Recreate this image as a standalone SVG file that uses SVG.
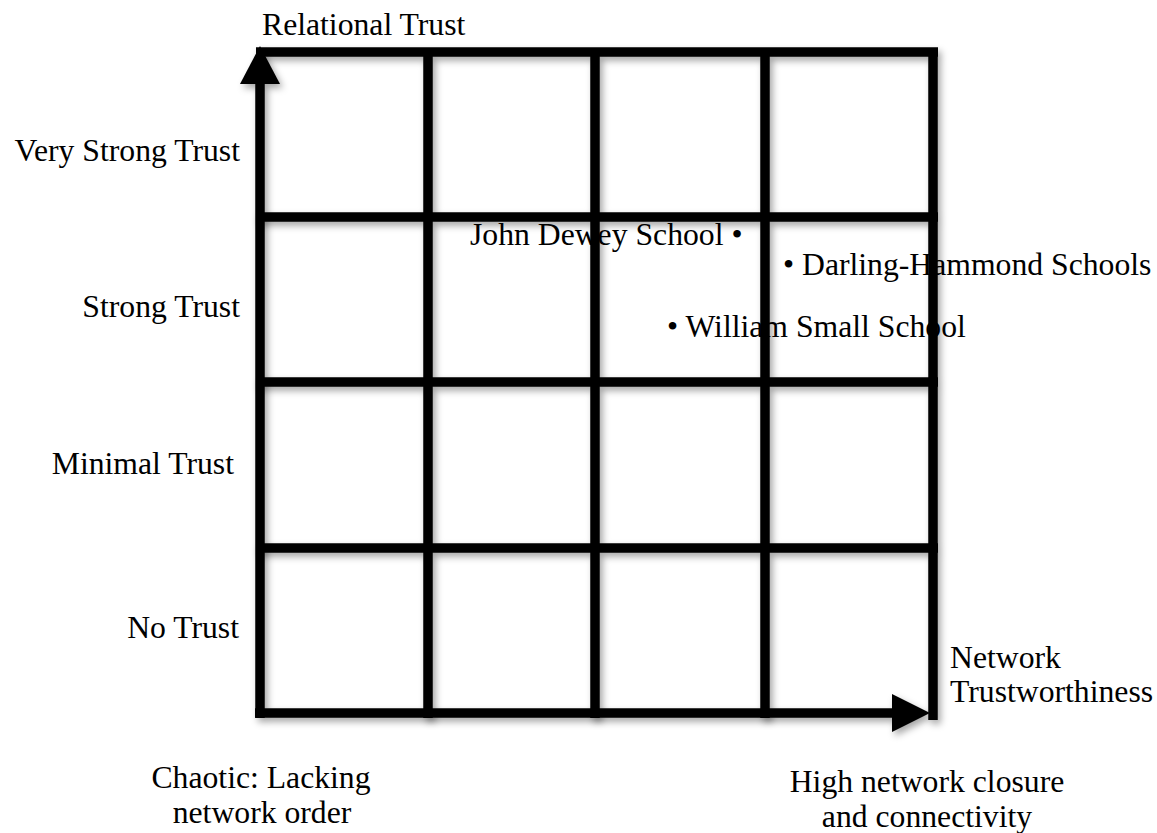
<svg xmlns="http://www.w3.org/2000/svg" width="1157" height="833" viewBox="0 0 1157 833">
  <defs>
    <filter id="shadow" x="-10%" y="-10%" width="120%" height="120%">
      <feDropShadow dx="3" dy="4" stdDeviation="3.5" flood-color="#000" flood-opacity="0.35"/>
    </filter>
  </defs>
  <style>
    .bar { stroke: #000; stroke-width: 9.5; fill: none; stroke-linecap: butt; }
    .head { fill: #000; }
    text { font-family: "Liberation Serif", "Times New Roman", serif; font-size: 31.7px; fill: #000; }
    .r { text-anchor: end; }
    .m { text-anchor: middle; }
  </style>
  <rect width="1157" height="833" fill="#fff"/>

  <!-- plotted schools (grid bars are painted over them) -->
  <g id="john-dewey"><text x="470" y="245">John Dewey School •</text></g>
  <g id="darling-hammond"><text x="783" y="275">• Darling-Hammond Schools</text></g>
  <g id="william-small"><text x="667" y="337">• William Small School</text></g>

  <!-- grid cells -->
  <g id="grid" filter="url(#shadow)">
    <line class="bar" x1="256" y1="52" x2="938" y2="52"/>
    <line class="bar" x1="256" y1="217" x2="938" y2="217"/>
    <line class="bar" x1="256" y1="382" x2="938" y2="382"/>
    <line class="bar" x1="256" y1="548" x2="938" y2="548"/>
    <line class="bar" x1="428" y1="48" x2="428" y2="718"/>
    <line class="bar" x1="595" y1="48" x2="595" y2="718"/>
    <line class="bar" x1="765" y1="48" x2="765" y2="718"/>
    <line class="bar" x1="933" y1="48" x2="933" y2="720"/>
  </g>

  <!-- axes with arrowheads -->
  <g id="connectors" filter="url(#shadow)">
    <line class="bar" x1="260" y1="718" x2="260" y2="82"/>
    <polygon class="head" points="260,46 280,84 240,84"/>
    <line class="bar" x1="255" y1="713" x2="894" y2="713"/>
    <polygon class="head" points="930,713 892,694 892,732"/>
  </g>

  <g id="axis-y-title"><text x="262" y="35">Relational Trust</text></g>
  <g id="axis-x-title">
    <text x="950" y="668">Network</text>
    <text x="950" y="702">Trustworthiness</text>
  </g>

  <g id="row-very-strong"><text class="r" x="240" y="161">Very Strong Trust</text></g>
  <g id="row-strong"><text class="r" x="240" y="317">Strong Trust</text></g>
  <g id="row-minimal"><text class="r" x="234" y="474">Minimal Trust</text></g>
  <g id="row-none"><text class="r" x="239" y="638">No Trust</text></g>

  <g id="col-low">
    <text class="m" x="261" y="788">Chaotic: Lacking</text>
    <text class="m" x="262" y="823">network order</text>
  </g>
  <g id="col-high">
    <text class="m" x="927" y="792">High network closure</text>
    <text class="m" x="927" y="827">and connectivity</text>
  </g>
</svg>
